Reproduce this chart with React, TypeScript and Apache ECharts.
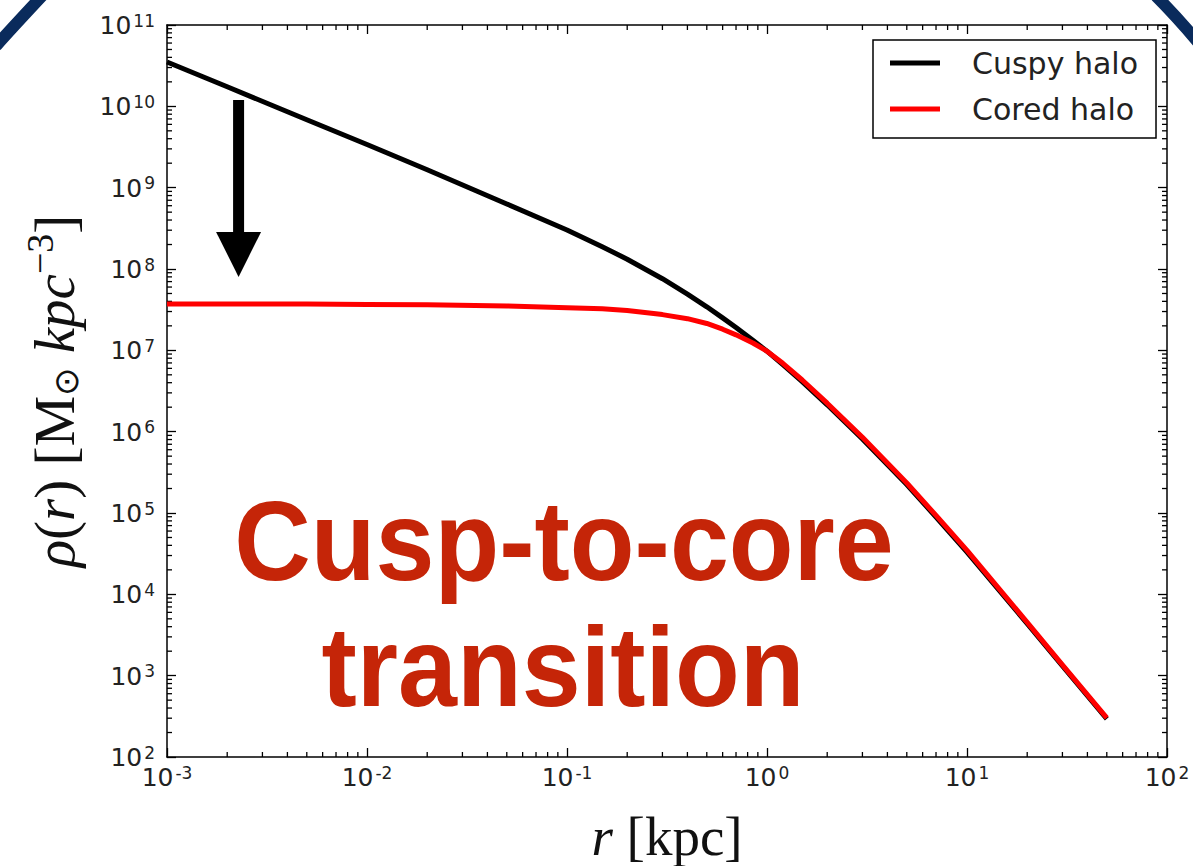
import React, { useEffect, useRef } from "react";
import * as echarts from "echarts";

// ---- data ----
const radiusKpc = [0.001, 0.002, 0.005, 0.01, 0.02, 0.05, 0.1, 0.15, 0.2, 0.3, 0.4, 0.5, 0.6, 0.7, 0.85, 1, 1.2, 1.5, 2, 3, 5, 7, 10, 20, 30, 50];
const cuspyHalo = [3.51e10, 1.74e10, 6.84e9, 3.39e9, 1.66e9, 6.31e8, 3.02e8, 1.88e8, 1.32e8, 7.59e7, 4.9e7, 3.43e7, 2.51e7, 1.91e7, 1.33e7, 9.77e6, 6.68e6, 4.12e6, 2.14e6, 8.13e5, 2.24e5, 8.91e4, 3.31e4, 4.37e3, 1.32e3, 295];
const coredHalo = [3.72e7, 3.72e7, 3.7e7, 3.67e7, 3.63e7, 3.51e7, 3.35e7, 3.24e7, 3.09e7, 2.75e7, 2.45e7, 2.14e7, 1.82e7, 1.55e7, 1.23e7, 9.77e6, 6.92e6, 4.32e6, 2.24e6, 8.51e5, 2.34e5, 9.33e4, 3.47e4, 4.52e3, 1.36e3, 302];
const seriesNames = ["Cuspy halo", "Cored halo"];
const seriesColors = ["#000000", "#ff0000"];
const xRange = [1e-3, 1e2];
const yRange = [1e2, 1e11];
const xDecades = [1e-3, 1e-2, 1e-1, 1, 10];
const yDecades = [1e2, 1e3, 1e4, 1e5, 1e6, 1e7, 1e8, 1e9, 1e10];
const minorMultipliers = [2, 3, 4, 5, 6, 7, 8, 9];
const annotationLines = ["Cusp-to-core", "transition"];
const arrowR = 0.00228;
const arrowFrom = 1.2e10;
const arrowHeadStart = 2.86e8;
const arrowTip = 8.0e7;

const xMinor = xDecades.flatMap((d) => minorMultipliers.map((m) => d * m));
const yMinor = yDecades.flatMap((d) => minorMultipliers.map((m) => d * m));

const tickFont = "DejaVu Sans";
const serif = "'Liberation Serif', 'DejaVu Serif', serif";

const powLabel = (v: number) => {
  const e = Math.round(Math.log10(v));
  return `{b|10}{s|${e}}`;
};

const labelRich = {
  b: { fontFamily: tickFont, fontSize: 25, color: "#222", lineHeight: 26, padding: [4, 0, 0, 0], verticalAlign: "bottom" },
  s: { fontFamily: tickFont, fontSize: 17, color: "#222", lineHeight: 18, verticalAlign: "top", padding: [0, 0, 0, 2] },
};

const tickLine = (x1: number, y1: number, x2: number, y2: number) => ({
  type: "line",
  shape: { x1, y1, x2, y2 },
  style: { stroke: "#000", lineWidth: 1.3 },
});

export default function App() {
  const ref = useRef<HTMLDivElement>(null);

  useEffect(() => {
    if (!ref.current) return;
    const chart = echarts.init(ref.current, undefined, { renderer: "svg" });

    const baseAxis = {
      type: "log",
      logBase: 10,
      axisLine: { show: true, onZero: false, lineStyle: { color: "#000", width: 1.5 } },
      axisTick: { show: true, inside: true, length: 9, lineStyle: { color: "#000", width: 1.3 } },
      splitLine: { show: false },
      minorTick: { show: false },
    };

    const option: any = {
      animation: false,
      backgroundColor: "#ffffff",
      grid: { left: 167, top: 25, right: 26, bottom: 109, show: false, containLabel: false, outerBoundsMode: "none" },
      legend: {
        data: seriesNames,
        left: 873,
        top: 40,
        orient: "vertical",
        icon: "rect",
        itemWidth: 50,
        itemHeight: 5,
        itemGap: 16,
        padding: [8, 18, 14, 17],
        borderColor: "#000",
        borderWidth: 1.5,
        borderRadius: 0,
        backgroundColor: "#fff",
        textStyle: { fontFamily: tickFont, fontSize: 30, color: "#222", lineHeight: 30, padding: [0, 0, 0, 27] },
      },
      xAxis: [
        {
          ...baseAxis,
          min: xRange[0],
          max: xRange[1],
          splitNumber: 5,
          position: "bottom",
          axisLabel: { formatter: powLabel, rich: labelRich, margin: 7 },
          name: "{i|r}{n| [kpc]}",
          nameLocation: "middle",
          nameGap: 52,
          nameTextStyle: {
            rich: {
              i: { fontFamily: serif, fontStyle: "italic", fontSize: 55, color: "#111" },
              n: { fontFamily: serif, fontSize: 55, color: "#111" },
            },
          },
        },
        {
          ...baseAxis,
          min: xRange[0],
          max: xRange[1],
          splitNumber: 5,
          position: "top",
          axisLabel: { show: false },
        },
      ],
      yAxis: [
        {
          ...baseAxis,
          min: yRange[0],
          max: yRange[1],
          splitNumber: 9,
          position: "left",
          axisLabel: { formatter: powLabel, rich: labelRich, margin: 12 },
          name: "{i|ρ}{n|(}{i|r}{n|) [M}{o|⊙}{i| kpc}{s|−3}{n|]}",
          nameLocation: "middle",
          nameRotate: 90,
          nameGap: 84,
          nameTextStyle: {
            rich: {
              i: { fontFamily: serif, fontStyle: "italic", fontSize: 57, color: "#111", lineHeight: 62, verticalAlign: "bottom" },
              n: { fontFamily: serif, fontSize: 57, color: "#111", lineHeight: 62, verticalAlign: "bottom" },
              o: { fontFamily: "DejaVu Sans", fontSize: 34, color: "#111", lineHeight: 48, verticalAlign: "bottom" },
              s: { fontFamily: serif, fontSize: 38, color: "#111", lineHeight: 36, verticalAlign: "top" },
            },
          },
        },
        {
          ...baseAxis,
          min: yRange[0],
          max: yRange[1],
          splitNumber: 9,
          position: "right",
          axisLabel: { show: false },
        },
      ],
      series: [
        {
          name: seriesNames[0],
          type: "line",
          data: radiusKpc.map((r, i) => [r, cuspyHalo[i]]),
          showSymbol: false,
          smooth: false,
          color: seriesColors[0],
          lineStyle: { color: seriesColors[0], width: 5, join: "round" },
          z: 3,
        },
        {
          name: seriesNames[1],
          type: "line",
          data: radiusKpc.map((r, i) => [r, coredHalo[i]]),
          showSymbol: false,
          smooth: false,
          color: seriesColors[1],
          lineStyle: { color: seriesColors[1], width: 5, join: "round" },
          z: 4,
        },
        {
          type: "custom",
          silent: true,
          data: xMinor.map((v) => [v, 1e6]),
          renderItem: (_p: any, api: any) => {
            const v = api.value(0);
            const b = api.coord([v, yRange[0]]);
            const t = api.coord([v, yRange[1]]);
            return {
              type: "group",
              children: [tickLine(b[0], b[1], b[0], b[1] - 5), tickLine(t[0], t[1], t[0], t[1] + 5)],
            };
          },
          z: 2,
        },
        {
          type: "custom",
          silent: true,
          data: yMinor.map((v) => [1, v]),
          renderItem: (_p: any, api: any) => {
            const v = api.value(1);
            const l = api.coord([xRange[0], v]);
            const r = api.coord([xRange[1], v]);
            return {
              type: "group",
              children: [tickLine(l[0], l[1], l[0] + 5, l[1]), tickLine(r[0], r[1], r[0] - 5, r[1])],
            };
          },
          z: 2,
        },
      ],
    };

    chart.setOption(option);

    const top = chart.convertToPixel({ gridIndex: 0 }, [arrowR, arrowFrom]) as number[];
    const head = chart.convertToPixel({ gridIndex: 0 }, [arrowR, arrowHeadStart]) as number[];
    const tip = chart.convertToPixel({ gridIndex: 0 }, [arrowR, arrowTip]) as number[];
    const ax = top[0];
    const shaftHalf = 5.5;
    const headHalf = 22.5;

    chart.setOption({
      graphic: [
        {
          type: "rect",
          shape: { x: ax - shaftHalf, y: top[1], width: shaftHalf * 2, height: head[1] - top[1] + 1 },
          style: { fill: "#000" },
          z: 10,
        },
        {
          type: "polygon",
          shape: { points: [[ax - headHalf, head[1]], [ax + headHalf, head[1]], [ax, tip[1]]] },
          style: { fill: "#000" },
          z: 10,
        },
        {
          type: "text",
          x: 564,
          y: 540,
          scaleX: 0.93,
          style: {
            text: annotationLines[0],
            fill: "#c52508",
            font: "bold 114px 'Liberation Sans', Arial, sans-serif",
            textAlign: "center",
            textVerticalAlign: "middle",
          },
          z: 10,
        },
        {
          type: "text",
          x: 563,
          y: 666,
          scaleX: 0.93,
          style: {
            text: annotationLines[1],
            fill: "#c52508",
            font: "bold 114px 'Liberation Sans', Arial, sans-serif",
            textAlign: "center",
            textVerticalAlign: "middle",
          },
          z: 10,
        },
        {
          type: "bezierCurve",
          shape: { x1: -4, y1: 46, cpx1: 12, cpy1: 28, x2: 42, y2: -4 },
          style: { stroke: "#0a2b5c", lineWidth: 12, fill: null },
          z: 20,
        },
        {
          type: "bezierCurve",
          shape: { x1: 1156, y1: -4, cpx1: 1176, cpy1: 16, x2: 1198, y2: 42 },
          style: { stroke: "#0a2b5c", lineWidth: 12, fill: null },
          z: 20,
        },
      ],
    });

    return () => chart.dispose();
  }, []);

  return <div ref={ref} style={{ position: "absolute", left: 0, top: 0, width: 1193, height: 866 }} />;
}
